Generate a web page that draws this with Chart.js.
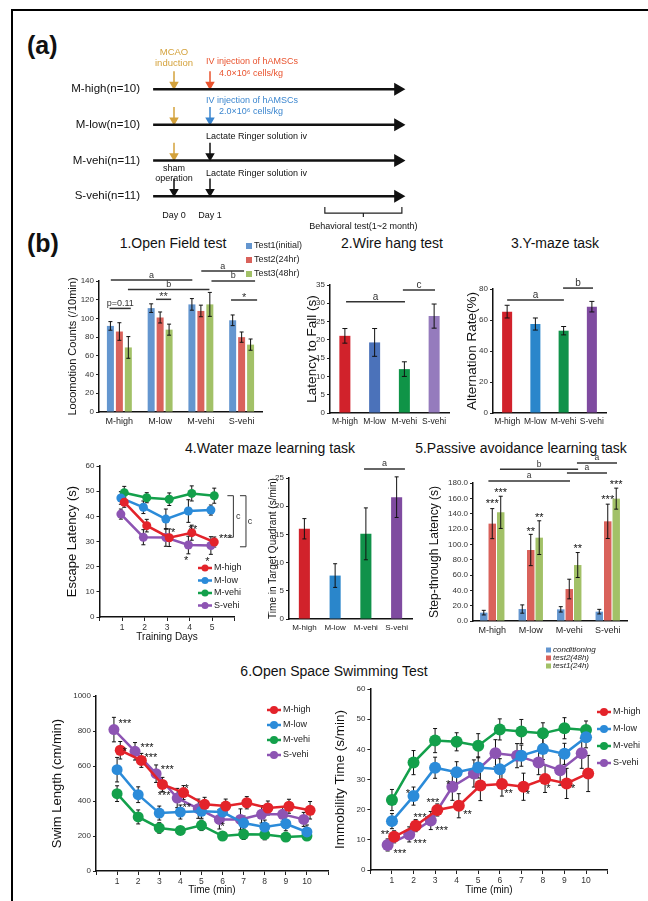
<!DOCTYPE html>
<html>
<head>
<meta charset="utf-8">
<script src="https://cdn.jsdelivr.net/npm/chart.js@4.4.1/dist/chart.umd.min.js"></script>
<style>
  body { margin: 0; background: #fff; }
  #page { position: relative; width: 648px; height: 901px; overflow: hidden; background: #fff;
          font-family: 'Liberation Sans', Arial, sans-serif; color: #111; }
  #page canvas { position: absolute; left: 0; top: 0; }
  .t { position: absolute; white-space: nowrap; transform: translate(-50%, -50%); font-size: 14px; }
  .lbl { position: absolute; white-space: nowrap; transform: translateY(-50%); font-size: 25px; font-weight: bold; }
  #frame { position: absolute; left: 11px; top: 9px; right: -5px; bottom: -5px;
           border-left: 2px solid #000; border-top: 2px solid #000; }
</style>
</head>
<body>
<div id="page">
  <div id="frame"></div>
  <div class="lbl" style="left:27px;top:45px">(a)</div>
  <div class="lbl" style="left:27px;top:243px">(b)</div>
  <div class="t" style="left:173px;top:243px">1.Open Field test</div>
  <div class="t" style="left:392px;top:243px">2.Wire hang test</div>
  <div class="t" style="left:555px;top:243px">3.Y-maze task</div>
  <div class="t" style="left:270px;top:448px">4.Water maze learning task</div>
  <div class="t" style="left:521px;top:448px">5.Passive avoidance learning task</div>
  <div class="t" style="left:334px;top:671px">6.Open Space Swimming Test</div>
</div>
<script>
const W = 648, H = 901;
const FONT = "'Liberation Sans', Arial, sans-serif";

// (a) study design
const cohorts = ["M-high(n=10)", "M-low(n=10)", "M-vehi(n=11)", "S-vehi(n=11)"];
const day0Event = ["mcao", "mcao", "mcao", "sham"];
const day1Event = ["high", "low", "ringer", "ringer"];
const eventDays = [0, 1];
const timelineDays = [-0.58, 6.22];
const behaviorDays = [4.19, 6.33];

// (b) groups
const groups = ["M-high", "M-low", "M-vehi", "S-vehi"];

// 1. open field
const openFieldTests = ["Test1(initial)", "Test2(24hr)", "Test3(48hr)"];
const openFieldMean = [[92, 111, 115, 98], [86, 101, 108, 80], [69, 88, 115, 72]];
const openFieldErr = [[4.6, 4.6, 6.2, 5.7], [9.4, 5.9, 6.2, 5.5], [11.6, 5.9, 12.8, 6]];

// 2. wire hang
const wireHangMean = [21.1, 19.3, 12, 26.5];
const wireHangErr = [2, 3.8, 2, 3.3];

// 3. Y-maze
const yMazeMean = [65.4, 57.4, 53.1, 68.6];
const yMazeErr = [4.1, 3.9, 2.7, 3.4];

// 4. water maze
const trainingDays = [1, 2, 3, 4, 5];
const escapeHigh = [45.6, 36.3, 31.5, 33.5, 29.8];
const escapeLow = [47.3, 43.6, 38.9, 42.1, 42.5];
const escapeVehi = [49.4, 47.4, 46.8, 49.1, 48.2];
const escapeSham = [40.9, 31.7, 31.6, 28.6, 28.4];
const escapeHighErr = [2, 2.5, 3.5, 3, 2];
const escapeLowErr = [2.5, 2.5, 4, 4.5, 2];
const escapeVehiErr = [2.5, 2, 2.5, 3, 3];
const escapeShamErr = [2, 3, 3.5, 3.5, 3.5];
const quadrantMean = [16, 7.7, 15.1, 21.6];
const quadrantErr = [1.8, 2.1, 4.6, 3.6];

// 5. passive avoidance
const passiveTests = ["conditioning", "test2(48h)", "test1(24h)"];
const passiveMean = [[10.9, 15.6, 15.2, 12.2], [127, 92.6, 41.7, 130], [141.7, 108.7, 73, 159.6]];
const passiveErr = [[3, 5.4, 3.5, 3], [19.6, 20.4, 12.8, 22.4], [21, 22, 16.3, 13.7]];

// 6. open space swimming
const minutes = [1, 2, 3, 4, 5, 6, 7, 8, 9, 10];
const swimHigh = [690, 632, 495, 448, 381, 371, 390, 360, 370, 347];
const swimLow = [579, 436, 331, 337, 341, 337, 274, 251, 270, 223];
const swimVehi = [442, 309, 246, 232, 261, 200, 210, 208, 194, 200];
const swimSham = [808, 684, 556, 417, 356, 295, 295, 324, 324, 295];
const swimHighErr = [50, 40, 40, 40, 40, 40, 35, 40, 40, 50];
const swimLowErr = [70, 45, 40, 40, 40, 40, 40, 40, 40, 40];
const swimVehiErr = [45, 40, 30, 20, 30, 20, 30, 30, 20, 20];
const swimShamErr = [70, 50, 50, 55, 55, 55, 60, 50, 40, 40];
const immobHigh = [11, 14.7, 19.9, 21.3, 28, 28.5, 27.6, 30.2, 28.7, 32];
const immobLow = [16.2, 24.5, 33.9, 32.4, 34, 33.4, 37.9, 40.1, 38.5, 44];
const immobVehi = [23.2, 35.6, 42.9, 42.5, 41.2, 46.6, 45.9, 45.3, 47, 46.4];
const immobSham = [8.3, 11.8, 16.4, 27.6, 32, 38.7, 37.9, 35.6, 33.1, 38.7];
const immobHighErr = [2, 2, 2, 4, 5, 4, 4.5, 4.5, 5, 6];
const immobLowErr = [2.5, 3, 3.5, 3.5, 3.5, 3.5, 3.5, 3.5, 3.5, 3.5];
const immobVehiErr = [3.5, 4, 4, 3, 4, 3.5, 4, 3.5, 3.5, 3];
const immobShamErr = [2, 2.5, 3, 4.5, 4.5, 4.5, 4, 4, 5, 5];

// significance marks: [from, to, value, label] and stars: [x, value, text]
const openFieldSig = [[-0.24, 0.28, 110.7, "p=0.11"], [0.9, 1.27, 120.4, "**"], [2.74, 3.38, 119.7, "*"],
  [-0.21, 1.79, 141, "a"], [0.21, 2.21, 131, "b"], [2.01, 3.06, 150.6, "a"], [2.26, 3.33, 140, "b"]];
const wireHangSig = [[0.04, 2.02, 30.4, "a"], [1.95, 3.03, 33.6, "c"]];
const yMazeSig = [[0.0, 2.01, 72.9, "a"], [1.98, 3.04, 80.6, "b"]];
const quadrantSig = [[1.94, 3.27, 26.6, "a"]];
const passiveSig = [[-0.1, 2.02, 182.6, "a"], [0.2, 2.23, 198, "b"], [1.94, 2.98, 193, "a"], [2.2, 3.24, 206, "a"]];
const passiveStars = [[0, 155, "***"], [0.22, 169, "***"], [1, 119, "**"], [1.22, 137, "**"],
  [2.22, 96, "**"], [3, 160, "***"], [3.22, 180, "***"]];
const escapeStars = [[3.27, 34, "*"], [4.15, 35.3, "**"], [5.6, 31.8, "***"], [3.85, 23, "*"], [4.8, 22.7, "*"]];
const escapeBrackets = [[5.95, 48.2, 31.7, "c", 6.17], [6.51, 48.2, 27.9, "c", 6.69]];
const swimStars = [[1.37, 851, "***"], [1.37, 691, "*"], [2.42, 714, "***"], [2.6, 657, "***"],
  [3.38, 589, "***"], [3.23, 440, "***"], [4.3, 480, "*"], [4.3, 370, "**"], [6.0, 265, "*"]];
const immobStars = [[0.68, 12.3, "**"], [1.37, 6, "***"], [1.74, 26, "*"], [2.3, 18, "***"], [2.3, 9.3, "***"],
  [2.9, 23, "***"], [3.3, 13.6, "***"], [3.6, 29, "*"], [4.5, 19, "**"], [6.4, 26, "**"], [7.3, 25.5, "*"],
  [8.25, 27.5, "*"], [9.4, 27.5, "*"]];

// colours
const eventColor = { mcao: "#d4a23c", sham: "#111", high: "#e9532e", low: "#3b86cf", ringer: "#111" };
const testColors = ["#6496cf", "#d9625b", "#a2c167"];
const lineColors = ["#e3232a", "#2b8bd9", "#13a04b", "#8d54b3"];
const wireColors = ["#d1222b", "#4b72ba", "#0f9447", "#957bbd"];
const barColors = ["#d1222b", "#2a86cb", "#10924a", "#7f4ba0"];

Chart.defaults.font.family = FONT;
Chart.defaults.color = "#222";
Chart.defaults.plugins.legend.display = false;
Chart.defaults.plugins.tooltip.enabled = false;

function make(config) {
  const c = document.createElement("canvas");
  c.width = W; c.height = H;
  document.getElementById("page").appendChild(c);
  config.options = Object.assign({ responsive: false, animation: false, events: [] }, config.options);
  return new Chart(c, config);
}

// place the chart area on the page: axis x, right edge, top value pixel, axis y
function pad(axisX, rightX, topY, bottomY, yW, xH) {
  return { padding: { left: axisX - yW, right: W - rightX, top: topY, bottom: H - bottomY - xH } };
}

function axisY(o) {
  return {
    type: "linear", min: o.min, max: o.max,
    afterFit: s => { s.width = o.w; },
    ticks: { stepSize: o.step, font: { size: o.tickSize || 8 }, color: "#333", padding: 2,
             callback: o.fmt || (v => v) },
    grid: { drawOnChartArea: false, drawTicks: true, tickLength: 3, color: "#222" },
    border: { color: "#111", width: 1.5 },
    title: { display: true, text: o.title, font: { size: o.titleSize }, color: "#111", padding: 0 }
  };
}

function axisCat(o) {
  return {
    type: "category", offset: true,
    afterFit: s => { s.height = o.h; },
    ticks: { font: { size: o.size || 9 }, color: "#222", padding: o.pad || 4, maxRotation: 0, autoSkip: false },
    grid: { display: false, drawTicks: false, tickLength: 0 },
    border: { color: "#111", width: 1.5 }
  };
}

function axisLin(o) {
  return {
    type: "linear", min: o.min, max: o.max,
    afterFit: s => { s.height = o.h; },
    ticks: { stepSize: 1, font: { size: 8.5 }, color: "#333", padding: 2, maxRotation: 0, autoSkip: false,
             callback: v => (v < 1 || v > o.last) ? "" : v },
    grid: { drawOnChartArea: false, tickLength: 4, color: "#222" },
    border: { color: "#111", width: 1.5 },
    title: { display: true, text: o.title, font: { size: o.titleSize }, color: "#111", padding: 0 }
  };
}

function drawErrors(chart, spec) {
  const ctx = chart.ctx, ys = chart.scales.y, c = spec.cap || 2;
  ctx.save();
  ctx.strokeStyle = spec.errColor || "#111";
  ctx.lineWidth = 1;
  chart.data.datasets.forEach((ds, i) => {
    if (!ds.err) return;
    chart.getDatasetMeta(i).data.forEach((el, j) => {
      const raw = ds.data[j];
      const v = typeof raw === "object" ? raw.y : raw;
      const top = ys.getPixelForValue(v + ds.err[j]);
      const bot = ys.getPixelForValue(v - ds.err[j]);
      ctx.beginPath();
      ctx.moveTo(el.x, top); ctx.lineTo(el.x, bot);
      ctx.moveTo(el.x - c, top); ctx.lineTo(el.x + c, top);
      ctx.moveTo(el.x - c, bot); ctx.lineTo(el.x + c, bot);
      ctx.stroke();
    });
  });
  ctx.restore();
}

function drawLegend(ctx, chart, lg) {
  chart.data.datasets.forEach((ds, i) => {
    const y = lg.y + i * lg.dy;
    ctx.fillStyle = ds.backgroundColor;
    ctx.strokeStyle = ds.borderColor;
    if (lg.kind === "box") {
      ctx.fillRect(lg.x, y - lg.box / 2, lg.box, lg.box);
    } else {
      ctx.lineWidth = 2.5;
      ctx.beginPath(); ctx.moveTo(lg.x, y); ctx.lineTo(lg.x + 14, y); ctx.stroke();
      ctx.beginPath(); ctx.arc(lg.x + 7, y, lg.dot, 0, Math.PI * 2); ctx.fill();
    }
    ctx.fillStyle = "#222";
    ctx.textAlign = "left";
    ctx.font = (lg.italic ? "italic " : "") + lg.size + "px " + FONT;
    ctx.fillText(ds.label, lg.x + (lg.kind === "box" ? lg.box + 2 : 16), y);
  });
}

function drawNotes(chart, spec) {
  const ctx = chart.ctx, xs = chart.scales.x, ys = chart.scales.y;
  const px = v => xs.getPixelForValue(v), py = v => ys.getPixelForValue(v);
  ctx.save();
  ctx.textBaseline = "middle";
  ctx.textAlign = "center";
  (spec.sig || []).forEach(([a, b, y, label]) => {
    const yy = py(y);
    ctx.strokeStyle = "#333"; ctx.lineWidth = 1.5;
    ctx.beginPath(); ctx.moveTo(px(a), yy); ctx.lineTo(px(b), yy); ctx.stroke();
    ctx.fillStyle = "#333";
    ctx.font = (label.indexOf("*") >= 0 ? 11 : (spec.sigSize || 9)) + "px " + FONT;
    ctx.fillText(label, (px(a) + px(b)) / 2, yy - (label.indexOf("*") >= 0 ? 2 : 5));
  });
  (spec.stars || []).forEach(([x, y, t]) => {
    ctx.fillStyle = "#111";
    ctx.font = "11px " + FONT;
    ctx.textAlign = "center";
    ctx.fillText(t, px(x), py(y) + 2);
  });
  (spec.brackets || []).forEach(([x, y1, y2, label, lx]) => {
    ctx.strokeStyle = "#333"; ctx.lineWidth = 1;
    ctx.beginPath();
    ctx.moveTo(px(x) - 6, py(y1)); ctx.lineTo(px(x), py(y1)); ctx.lineTo(px(x), py(y2)); ctx.lineTo(px(x) - 6, py(y2));
    ctx.stroke();
    ctx.fillStyle = "#333"; ctx.font = "9px " + FONT;
    ctx.fillText(label, px(lx), py((y1 + y2) / 2));
  });
  (spec.text || []).forEach(([x, y, t, size, color, align]) => {
    ctx.fillStyle = color || "#111";
    ctx.font = size + "px " + FONT;
    ctx.textAlign = align || "center";
    ctx.fillText(t, px(x), py(y));
  });
  if (spec.brace) {
    const [a, b, top, bot, notch] = spec.brace;
    ctx.strokeStyle = "#222"; ctx.lineWidth = 1.2;
    ctx.beginPath();
    ctx.moveTo(px(a), py(top)); ctx.lineTo(px(a), py(bot)); ctx.lineTo(px(b), py(bot)); ctx.lineTo(px(b), py(top));
    const m = (px(a) + px(b)) / 2;
    ctx.moveTo(m, py(bot)); ctx.lineTo(m, py(notch));
    ctx.stroke();
  }
  if (spec.legend) drawLegend(ctx, chart, spec.legend);
  ctx.restore();
}

function marks(spec) {
  return {
    id: "marks",
    beforeDatasetsDraw(chart) { if (spec.errUnder) drawErrors(chart, spec); },
    afterDatasetsDraw(chart) { if (!spec.errUnder) drawErrors(chart, spec); },
    afterDraw(chart) { drawNotes(chart, spec); }
  };
}

// ---------- (a) study design timeline ----------
const designSets = [];
cohorts.forEach((name, g) => {
  designSets.push({ data: timelineDays.map(d => ({ x: d, y: g })), showLine: true, borderColor: "#111",
    backgroundColor: "#111", borderWidth: 2.5, pointRadius: [0, 5], pointStyle: "triangle", rotation: 90 });
  [day0Event[g], day1Event[g]].forEach((ev, k) => {
    const c = eventColor[ev];
    designSets.push({ data: [{ x: eventDays[k], y: g - 0.5 }, { x: eventDays[k], y: g - 0.13 }], showLine: true,
      borderColor: c, backgroundColor: c, borderWidth: 1.5, pointRadius: [0, 4], pointStyle: "triangle", rotation: 180 });
  });
});
make({
  type: "scatter",
  data: { datasets: designSets },
  options: {
    layout: { padding: { left: 20, right: W - 420, top: 32, bottom: H - 232 } },
    scales: {
      x: { type: "linear", min: -2 / 3, max: 6.8333, display: false },
      y: { type: "linear", min: -1.6, max: 4.0, reverse: true,
           afterFit: s => { s.width = 130; },
           afterBuildTicks: s => { s.ticks = cohorts.map((c, i) => ({ value: i })); },
           ticks: { font: { size: 11.5 }, color: "#111", padding: 2, callback: v => cohorts[v] },
           grid: { display: false }, border: { display: false } }
    }
  },
  plugins: [marks({
    text: [
      [0, -1.04, "MCAO", 9.5, eventColor.mcao], [0, -0.73, "induction", 9.5, eventColor.mcao],
      [0.89, -0.76, "IV injection of hAMSCs", 9, eventColor.high, "left"],
      [1.25, -0.45, "4.0×10⁶ cells/kg", 9, eventColor.high, "left"],
      [0.89, 0.31, "IV injection of hAMSCs", 9, eventColor.low, "left"],
      [1.25, 0.62, "2.0×10⁶ cells/kg", 9, eventColor.low, "left"],
      [0.89, 1.32, "Lactate Ringer solution iv", 9, "#111", "left"],
      [0, 2.21, "sham", 9, "#111"], [0, 2.49, "operation", 9, "#111"],
      [0.89, 2.35, "Lactate Ringer solution iv", 9, "#111", "left"],
      [0, 3.53, "Day 0", 9, "#111"], [1, 3.53, "Day 1", 9, "#111"],
      [(behaviorDays[0] + behaviorDays[1]) / 2, 3.84, "Behavioral test(1~2 month)", 9, "#111"]
    ],
    brace: [behaviorDays[0], behaviorDays[1], 3.3, 3.47, 3.58]
  })]
});

// ---------- 1. open field ----------
make({
  type: "bar",
  data: { labels: groups, datasets: openFieldTests.map((t, k) => ({ label: t, data: openFieldMean[k], err: openFieldErr[k],
    backgroundColor: testColors[k], categoryPercentage: 0.66, barPercentage: 0.78 })) },
  options: {
    layout: pad(99, 262, 281, 412, 32.6, 25),
    scales: { x: axisCat({ h: 25, size: 9 }),
              y: axisY({ min: 0, max: 140, step: 20, w: 32.6, title: "Locomotion Counts (/10min)", titleSize: 11 }) }
  },
  plugins: [marks({ cap: 2, sig: openFieldSig, legend: { kind: "box", x: 246, y: 246, dy: 14, size: 9, box: 6 } })]
});

// ---------- 2. wire hang ----------
make({
  type: "bar",
  data: { labels: groups, datasets: [{ data: wireHangMean, err: wireHangErr, backgroundColor: wireColors,
    categoryPercentage: 1, barPercentage: 0.37 }] },
  options: {
    layout: pad(330, 449, 285, 413, 26, 22),
    scales: { x: axisCat({ h: 22, size: 8.5 }),
              y: axisY({ min: 0, max: 35, step: 5, w: 26, title: "Latency to Fall (s)", titleSize: 13.5 }) }
  },
  plugins: [marks({ cap: 2.5, sig: wireHangSig, sigSize: 10 })]
});

// ---------- 3. Y-maze ----------
make({
  type: "bar",
  data: { labels: groups, datasets: [{ data: yMazeMean, err: yMazeErr, backgroundColor: barColors,
    categoryPercentage: 1, barPercentage: 0.355 }] },
  options: {
    layout: pad(493, 606, 289, 413, 29, 22),
    scales: { x: axisCat({ h: 22, size: 8.5 }),
              y: axisY({ min: 0, max: 80, step: 20, w: 29, title: "Alternation Rate(%)", titleSize: 13.5 }) }
  },
  plugins: [marks({ cap: 2.5, sig: yMazeSig, sigSize: 10 })]
});

// ---------- 4. water maze: escape latency ----------
function lineSet(label, xs, ys, err, color, shift, r) {
  return { label, data: xs.map((x, i) => ({ x: x + shift, y: ys[i] })), err, showLine: true,
    borderColor: color, backgroundColor: color, borderWidth: 2.5, pointRadius: r, pointBorderWidth: 0 };
}
make({
  type: "scatter",
  data: { datasets: [
    lineSet("M-high", trainingDays, escapeHigh, escapeHighErr, lineColors[0], 0.1, 4.5),
    lineSet("M-low", trainingDays, escapeLow, escapeLowErr, lineColors[1], -0.05, 4.5),
    lineSet("M-vehi", trainingDays, escapeVehi, escapeVehiErr, lineColors[2], 0.1, 4.5),
    lineSet("S-vehi", trainingDays, escapeSham, escapeShamErr, lineColors[3], -0.05, 4.5)
  ] },
  options: {
    layout: pad(99.5, 234.5, 466, 617, 35.3, 26),
    scales: { x: axisLin({ min: 0, max: 6, last: 5, h: 26, title: "Training Days", titleSize: 10 }),
              y: axisY({ min: 0, max: 60, step: 10, w: 35.3, title: "Escape Latency (s)", titleSize: 13 }) }
  },
  plugins: [marks({ cap: 2, errUnder: true, stars: escapeStars, brackets: escapeBrackets,
    legend: { kind: "line", x: 198, y: 568, dy: 12.5, size: 9, dot: 3.5 } })]
});

// ---------- 4. water maze: target quadrant ----------
make({
  type: "bar",
  data: { labels: groups, datasets: [{ data: quadrantMean, err: quadrantErr, backgroundColor: barColors,
    categoryPercentage: 1, barPercentage: 0.36 }] },
  options: {
    layout: pad(289, 412, 478, 619, 22, 20),
    scales: { x: axisCat({ h: 20, size: 8 }),
              y: axisY({ min: 0, max: 25, step: 5, w: 22, title: "Time in Target Quadrant (s/min)", titleSize: 10 }) }
  },
  plugins: [marks({ cap: 2, sig: quadrantSig, sigSize: 9 })]
});

// ---------- 5. passive avoidance ----------
make({
  type: "bar",
  data: { labels: groups, datasets: passiveTests.map((t, k) => ({ label: t, data: passiveMean[k], err: passiveErr[k],
    backgroundColor: testColors[k], categoryPercentage: 0.66, barPercentage: 0.88 })) },
  options: {
    layout: pad(473, 627, 483, 621, 45.2, 20),
    scales: { x: axisCat({ h: 20, size: 9 }),
              y: axisY({ min: 0, max: 180, step: 20, w: 45.2, title: "Step-through Latency (s)", titleSize: 12,
                         fmt: v => v.toFixed(1) }) }
  },
  plugins: [marks({ cap: 2, sig: passiveSig, stars: passiveStars, sigSize: 8.5,
    legend: { kind: "box", x: 546, y: 650, dy: 8, size: 8, box: 5, italic: true } })]
});

// ---------- 6. open space swimming: swim length ----------
make({
  type: "scatter",
  data: { datasets: [
    lineSet("M-high", minutes, swimHigh, swimHighErr, lineColors[0], 0.15, 5.5),
    lineSet("M-low", minutes, swimLow, swimLowErr, lineColors[1], 0, 5.5),
    lineSet("M-vehi", minutes, swimVehi, swimVehiErr, lineColors[2], 0, 5.5),
    lineSet("S-vehi", minutes, swimSham, swimShamErr, lineColors[3], -0.15, 5.5)
  ] },
  options: {
    layout: pad(96, 328, 696, 871, 46.8, 25),
    scales: { x: axisLin({ min: 0, max: 11, last: 10, h: 25, title: "Time (min)", titleSize: 10 }),
              y: axisY({ min: 0, max: 1000, step: 200, w: 46.8, title: "Swim Length (cm/min)", titleSize: 13 }) }
  },
  plugins: [marks({ cap: 2, errUnder: true, stars: swimStars,
    legend: { kind: "line", x: 267, y: 710, dy: 15, size: 9, dot: 4 } })]
});

// ---------- 6. open space swimming: immobility ----------
make({
  type: "scatter",
  data: { datasets: [
    lineSet("M-high", minutes, immobHigh, immobHighErr, lineColors[0], 0.1, 6),
    lineSet("M-low", minutes, immobLow, immobLowErr, lineColors[1], 0, 6),
    lineSet("M-vehi", minutes, immobVehi, immobVehiErr, lineColors[2], 0, 6),
    lineSet("S-vehi", minutes, immobSham, immobShamErr, lineColors[3], -0.2, 6)
  ] },
  options: {
    layout: pad(370.4, 607.6, 689, 870, 38.5, 26),
    scales: { x: axisLin({ min: 0, max: 11, last: 10, h: 26, title: "Time (min)", titleSize: 10 }),
              y: axisY({ min: 0, max: 60, step: 10, w: 38.5, title: "Immobility Time (s/min)", titleSize: 13.5 }) }
  },
  plugins: [marks({ cap: 2, errUnder: true, stars: immobStars,
    legend: { kind: "line", x: 597, y: 712, dy: 17, size: 9, dot: 4 } })]
});
</script>
</body>
</html>
